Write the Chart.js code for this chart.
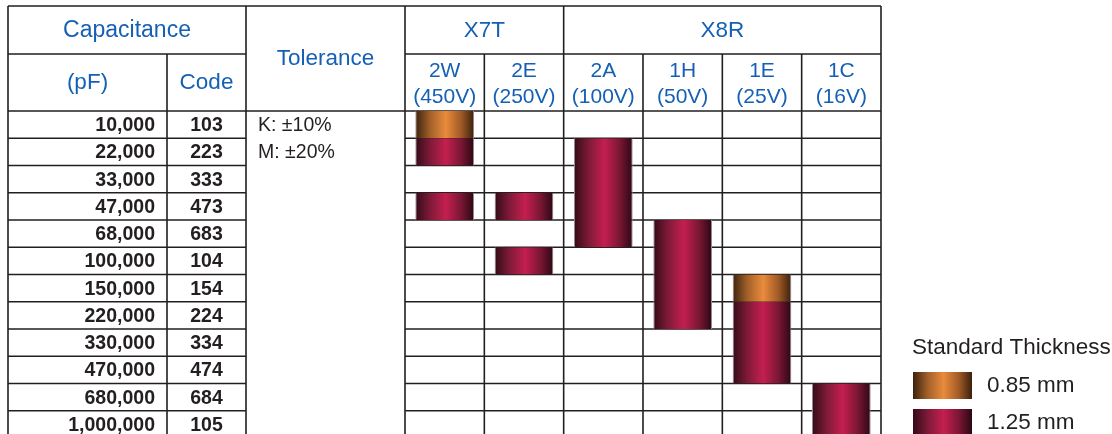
<!DOCTYPE html>
<html lang="en">
<head>
  <meta charset="UTF-8" />
  <title>Capacitance / Voltage Chart</title>
  <script src="https://cdn.jsdelivr.net/npm/chart.js"></script>
  <style>
    html, body { margin: 0; padding: 0; background: #fff; overflow: hidden; }
    .chart-container { position: relative; width: 1112px; height: 440px; }
  </style>
</head>
<body>
  <div class="chart-container">
    <canvas id="capChart"></canvas>
  </div>

  <script>
    // Column categories (rated voltage)
    const voltageCodes = ["2W", "2E", "2A", "1H", "1E", "1C"];
    const voltageRatings = ["(450V)", "(250V)", "(100V)", "(50V)", "(25V)", "(16V)"];
    const groupLabels = ["X7T", "X8R"];

    // Row categories (capacitance)
    const capacitancePF = ["10,000", "22,000", "33,000", "47,000", "68,000", "100,000",
      "150,000", "220,000", "330,000", "470,000", "680,000", "1,000,000"];
    const capacitanceCodes = ["103", "223", "333", "473", "683", "104",
      "154", "224", "334", "474", "684", "105"];
    const toleranceLabels = ["K: ±10%", "M: ±20%"];

    // Floating bars: [first row, last row + 1]
    const thickness085 = [[0, 1], null, null, null, [6, 7], null];
    const thickness125 = [[1, 2], [3, 4], [1, 5], [4, 8], [7, 10], [10, 12]];
    const thickness125b = [[3, 4], [5, 6], null, null, null, null];

    const legendTitle = "Standard Thickness";
    const legendLabels = ["0.85 mm", "1.25 mm"];

    const BLUE = "#1560b4";
    const INK = "#231f20";
    const FONT = "'Liberation Sans', Arial, Helvetica, sans-serif";
    const BAR_PCT = 0.74;

    const orangeStops = ["#3c220e", "#a2602a", "#ea8b3c", "#a05a26", "#3a200c"];
    const magentaStops = ["#330b18", "#7e1a38", "#c41f4f", "#7a1634", "#2a0812"];

    function makeGradient(c, left, right, stops) {
      const g = c.createLinearGradient(left, 0, right, 0);
      g.addColorStop(0, stops[0]);
      g.addColorStop(0.25, stops[1]);
      g.addColorStop(0.52, stops[2]);
      g.addColorStop(0.78, stops[3]);
      g.addColorStop(1, stops[4]);
      return g;
    }

    function barFill(stops) {
      return function(ctx) {
        const chart = ctx.chart;
        const x = chart.scales.x;
        if (!x || !chart.chartArea) return stops[2];
        const cx = x.getPixelForValue(ctx.dataIndex);
        const w = (x.width / voltageCodes.length) * BAR_PCT;
        return makeGradient(chart.ctx, cx - w / 2, cx + w / 2, stops);
      };
    }

    // Left table columns (pixel edges)
    const TABLE_LEFT = 8, PF_RIGHT = 167, CODE_RIGHT = 246;
    const TABLE_TOP = 6, HEAD_MID = 54;

    const tablePlugin = {
      id: "tablePlugin",
      beforeDatasetsDraw(chart) {
        const c = chart.ctx;
        const x = chart.scales.x, y = chart.scales.y;
        const area = chart.chartArea;
        const colW = x.width / voltageCodes.length;
        const edge = i => area.left + i * colW;
        c.save();
        c.strokeStyle = INK;
        c.lineWidth = 1.6;
        c.beginPath();
        // outer top
        c.moveTo(TABLE_LEFT, TABLE_TOP); c.lineTo(area.right, TABLE_TOP);
        // header middle lines
        c.moveTo(TABLE_LEFT, HEAD_MID); c.lineTo(CODE_RIGHT, HEAD_MID);
        c.moveTo(area.left, HEAD_MID); c.lineTo(area.right, HEAD_MID);
        // row lines
        for (let r = 0; r <= capacitancePF.length; r++) {
          const py = y.getPixelForValue(r);
          c.moveTo(TABLE_LEFT, py); c.lineTo(CODE_RIGHT, py);
          c.moveTo(area.left, py); c.lineTo(area.right, py);
        }
        // verticals
        const bottom = area.bottom + 10;
        [TABLE_LEFT, CODE_RIGHT, area.left, edge(2), area.right].forEach(px => {
          c.moveTo(px, TABLE_TOP); c.lineTo(px, bottom);
        });
        [PF_RIGHT, edge(1), edge(3), edge(4), edge(5)].forEach(px => {
          c.moveTo(px, HEAD_MID); c.lineTo(px, bottom);
        });
        // tolerance header underline
        c.moveTo(CODE_RIGHT, area.top); c.lineTo(area.left, area.top);
        c.stroke();
        c.restore();
      },
      afterDraw(chart) {
        const c = chart.ctx;
        const x = chart.scales.x, y = chart.scales.y;
        const area = chart.chartArea;
        const colW = x.width / voltageCodes.length;
        c.save();
        c.textBaseline = "middle";
        c.textAlign = "center";
        c.fillStyle = BLUE;
        c.font = "23px " + FONT;
        c.fillText("Capacitance", (TABLE_LEFT + CODE_RIGHT) / 2, 31);
        c.font = "22.5px " + FONT;
        c.fillText("(pF)", (TABLE_LEFT + PF_RIGHT) / 2, 83);
        c.fillText("Code", (PF_RIGHT + CODE_RIGHT) / 2, 83);
        c.fillText("Tolerance", (CODE_RIGHT + area.left) / 2, 59);
        c.fillText(groupLabels[0], area.left + colW, 31);
        c.fillText(groupLabels[1], (area.left + 2 * colW + area.right) / 2, 31);
        c.font = "21px " + FONT;
        voltageCodes.forEach((v, i) => {
          const px = x.getPixelForValue(i);
          c.fillText(v, px, 71);
          c.fillText(voltageRatings[i], px, 97);
        });

        c.fillStyle = INK;
        c.font = "bold 19.5px " + FONT;
        capacitancePF.forEach((pf, r) => {
          const py = y.getPixelForValue(r + 0.5) + 1;
          c.textAlign = "right";
          c.fillText(pf, PF_RIGHT - 12, py);
          c.textAlign = "center";
          c.fillText(capacitanceCodes[r], (PF_RIGHT + CODE_RIGHT) / 2, py);
        });
        c.font = "19.5px " + FONT;
        c.textAlign = "left";
        toleranceLabels.forEach((t, r) => {
          c.fillText(t, CODE_RIGHT + 12, y.getPixelForValue(r + 0.5) + 1);
        });

        // legend
        c.fillStyle = INK;
        c.font = "22.5px " + FONT;
        c.fillText(legendTitle, 912, 348);
        [orangeStops, magentaStops].forEach((stops, i) => {
          const top = 372 + i * 37;
          c.fillStyle = makeGradient(c, 913, 972, stops);
          c.fillRect(913, top, 59, 27);
          c.fillStyle = INK;
          c.fillText(legendLabels[i], 987, top + 14);
        });
        c.restore();
      }
    };

    function barDataset(label, data, stops) {
      return {
        label: label,
        data: data,
        backgroundColor: barFill(stops),
        borderColor: "#9a8a90",
        borderWidth: { left: 1, right: 1, top: 0, bottom: 0 },
        borderSkipped: false,
        grouped: false,
        barPercentage: BAR_PCT,
        categoryPercentage: 1.0
      };
    }

    new Chart(document.getElementById("capChart"), {
      type: "bar",
      data: {
        labels: voltageCodes,
        datasets: [
          barDataset(legendLabels[0], thickness085, orangeStops),
          barDataset(legendLabels[1], thickness125, magentaStops),
          barDataset(legendLabels[1], thickness125b, magentaStops)
        ]
      },
      options: {
        responsive: true,
        maintainAspectRatio: false,
        animation: false,
        layout: { padding: { left: 405, right: 231, top: 111, bottom: 2 } },
        plugins: {
          legend: { display: false },
          tooltip: { enabled: false }
        },
        scales: {
          x: { display: false, offset: true },
          y: { display: false, min: 0, max: 12, reverse: true }
        }
      },
      plugins: [tablePlugin]
    });
  </script>
</body>
</html>
